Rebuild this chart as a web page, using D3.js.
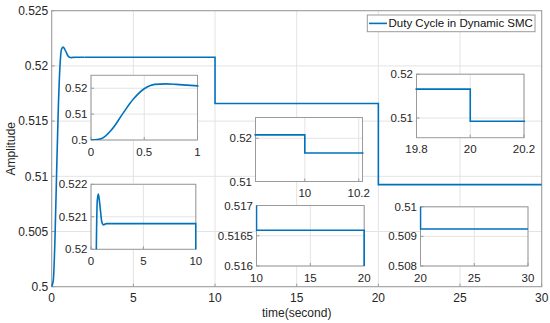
<!DOCTYPE html>
<html>
<head>
<meta charset="utf-8">
<script src="https://cdn.jsdelivr.net/npm/d3@7"></script>
<style>
  body { margin: 0; background: #fff; }
  svg { display: block; font-family: "Liberation Sans", Arial, sans-serif; }
  .grid line { stroke: #e3e3e3; stroke-width: 1; }
  .frame { fill: none; stroke: #9a9a9a; stroke-width: 1; }
  .tick-label { fill: #262626; }
</style>
</head>
<body>
<svg id="chart" width="550" height="323"></svg>
<script>
// duty cycle response
var time = [0, 0.1, 0.2, 0.3, 0.4, 0.5, 0.6, 0.7, 0.8, 0.9, 1.0, 1.1, 1.2, 1.3, 1.5, 2.0,
            10, 10, 20, 20, 30];
var duty = [0.5, 0.5006, 0.5043, 0.5103, 0.5159, 0.5198, 0.5215, 0.5217, 0.5215, 0.5212, 0.5209,
            0.52078, 0.52075, 0.52077, 0.52079, 0.52079,
            0.52079, 0.51659, 0.51659, 0.50925, 0.50925];

var seriesName = 'Duty Cycle in Dynamic SMC';

var mainXTicks = [0, 5, 10, 15, 20, 25, 30];
var mainYTicks = [0.5, 0.505, 0.51, 0.515, 0.52, 0.525];
var mainYLabels = ['0.5', '0.505', '0.51', '0.515', '0.52', '0.525'];

// zoomed views: domains and ticks
var insetXDomains = [[0, 1], [0, 10], [9.817, 10.214], [19.8, 20.2], [10, 20], [20, 30]];
var insetYDomains = [[0.5, 0.525], [0.52, 0.522], [0.51, 0.5248], [0.5055, 0.52], [0.516, 0.517], [0.508, 0.51]];
var insetXTicks = [[0, 0.5, 1], [0, 5, 10], [10, 10.2], [19.8, 20, 20.2], [10, 15, 20], [20, 25, 30]];
var insetXLabels = [['0', '0.5', '1'], ['0', '5', '10'], ['10', '10.2'], ['19.8', '20', '20.2'], ['10', '15', '20'], ['20', '25', '30']];
var insetYTicks = [[0.5, 0.51, 0.52], [0.52, 0.521, 0.522], [0.51, 0.52], [0.51, 0.52], [0.516, 0.5165, 0.517], [0.508, 0.509, 0.51]];
var insetYLabels = [['0.5', '0.51', '0.52'], ['0.52', '0.521', '0.522'], ['0.51', '0.52'], ['0.51', '0.52'], ['0.516', '0.5165', '0.517'], ['0.508', '0.509', '0.51']];

// layout of each inset box (left, top, right, bottom) in px
var insetBoxes = [
    {x0: 91, y0: 75.3, x1: 197.5, y1: 140},
    {x0: 91, y0: 184.3, x1: 195.8, y1: 249.3},
    {x0: 255.5, y0: 117.5, x1: 362.5, y1: 181.5},
    {x0: 416.5, y0: 74.2, x1: 524, y1: 137.7},
    {x0: 256.5, y0: 205.5, x1: 364.2, y1: 266},
    {x0: 420.5, y0: 206.8, x1: 528, y1: 266}
];

var blue = '#0072bd';
var svg = d3.select('#chart');

var points = time.map(function (t, i) { return [t, duty[i]]; });

function drawAxes(g, box, xDom, yDom, xt, xl, yt, yl, fontSize, clipId) {
    var x = d3.scaleLinear().domain(xDom).range([box.x0, box.x1]);
    var y = d3.scaleLinear().domain(yDom).range([box.y1, box.y0]);

    g.append('rect')
        .attr('x', box.x0).attr('y', box.y0)
        .attr('width', box.x1 - box.x0).attr('height', box.y1 - box.y0)
        .attr('fill', '#fff');

    var grid = g.append('g').attr('class', 'grid');
    grid.selectAll('.vx').data(xt).enter().append('line')
        .attr('x1', function (d) { return x(d); })
        .attr('x2', function (d) { return x(d); })
        .attr('y1', box.y0).attr('y2', box.y1);
    grid.selectAll('.hy').data(yt).enter().append('line')
        .attr('y1', function (d) { return y(d); })
        .attr('y2', function (d) { return y(d); })
        .attr('x1', box.x0).attr('x2', box.x1);

    // a little slack so lines lying on the frame stay visible
    g.append('clipPath').attr('id', clipId)
      .append('rect')
        .attr('x', box.x0 - 1).attr('y', box.y0)
        .attr('width', box.x1 - box.x0 + 2).attr('height', box.y1 - box.y0);

    var line = d3.line()
        .x(function (d) { return x(d[0]); })
        .y(function (d) { return y(d[1]); })
        .curve(d3.curveMonotoneX);

    var frame = g.append('rect').attr('class', 'frame')
        .attr('x', box.x0).attr('y', box.y0)
        .attr('width', box.x1 - box.x0).attr('height', box.y1 - box.y0);

    // tick marks pointing in
    var ticks = g.append('g').attr('stroke', '#9a9a9a');
    xt.forEach(function (d) {
        ticks.append('line').attr('x1', x(d)).attr('x2', x(d))
            .attr('y1', box.y1).attr('y2', box.y1 - 3);
    });
    yt.forEach(function (d) {
        ticks.append('line').attr('y1', y(d)).attr('y2', y(d))
            .attr('x1', box.x0).attr('x2', box.x0 + 3);
    });

    // smooth part and steps drawn separately so the steps stay square
    var smooth = points.slice(0, 16);
    var steps = points.slice(15);
    g.append('path')
        .attr('clip-path', 'url(#' + clipId + ')')
        .attr('d', line(smooth))
        .attr('fill', 'none').attr('stroke', blue).attr('stroke-width', 1.6);
    g.append('path')
        .attr('clip-path', 'url(#' + clipId + ')')
        .attr('d', d3.line().x(function (d) { return x(d[0]); }).y(function (d) { return y(d[1]); })(steps))
        .attr('fill', 'none').attr('stroke', blue).attr('stroke-width', 1.6);

    g.selectAll('.xl').data(xt).enter().append('text')
        .attr('class', 'tick-label')
        .attr('x', function (d) { return x(d); })
        .attr('y', box.y1 + 15.5)
        .attr('text-anchor', 'middle')
        .style('font-size', fontSize + 'px')
        .text(function (d, i) { return xl[i]; });
    g.selectAll('.yl').data(yt).enter().append('text')
        .attr('class', 'tick-label')
        .attr('x', box.x0 - 3.5)
        .attr('y', function (d) { return y(d); })
        .attr('dy', '0.35em')
        .attr('text-anchor', 'end')
        .style('font-size', fontSize + 'px')
        .text(function (d, i) { return yl[i]; });
}

// main axes
var mainBox = {x0: 51.7, y0: 10.7, x1: 541.7, y1: 286.7};
drawAxes(svg.append('g'), mainBox, [0, 30], [0.5, 0.525],
         mainXTicks, mainXTicks.map(String), mainYTicks, mainYLabels, 12, 'clip-main');

svg.append('text')
    .attr('x', (mainBox.x0 + mainBox.x1) / 2)
    .attr('y', 317)
    .attr('text-anchor', 'middle')
    .attr('fill', '#262626')
    .style('font-size', '12px')
    .text('time(second)');

svg.append('text')
    .attr('transform', 'translate(15,' + ((mainBox.y0 + mainBox.y1) / 2) + ') rotate(-90)')
    .attr('text-anchor', 'middle')
    .attr('fill', '#262626')
    .style('font-size', '12px')
    .text('Amplitude');

// insets
insetBoxes.forEach(function (box, i) {
    drawAxes(svg.append('g'), box, insetXDomains[i], insetYDomains[i],
             insetXTicks[i], insetXLabels[i], insetYTicks[i], insetYLabels[i], 11.5, 'clip-inset-' + i);
});

// legend
var legend = svg.append('g').attr('class', 'legend');
legend.append('rect')
    .attr('x', 367.3).attr('y', 15)
    .attr('width', 167.7).attr('height', 16.7)
    .attr('fill', '#fff').attr('stroke', '#9a9a9a');
legend.append('line')
    .attr('x1', 369).attr('x2', 387)
    .attr('y1', 23.4).attr('y2', 23.4)
    .attr('stroke', blue).attr('stroke-width', 1.6);
legend.append('text')
    .attr('x', 388.5).attr('y', 23.4)
    .attr('dy', '0.35em')
    .attr('fill', '#111')
    .style('font-size', '11.5px')
    .text(seriesName);
</script>
</body>
</html>
